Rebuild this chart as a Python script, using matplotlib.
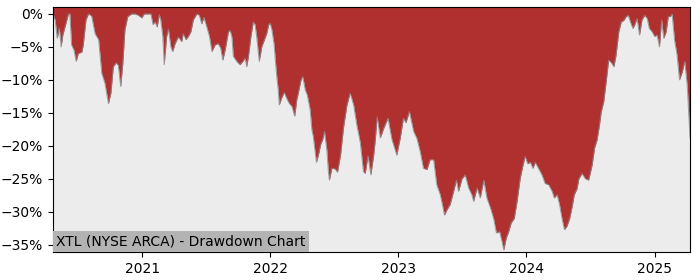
import matplotlib
matplotlib.use("Agg")
import matplotlib.pyplot as plt
import matplotlib.dates as mdates
from matplotlib.ticker import PercentFormatter
import pandas as pd

# drawdown readings (percent) for XTL
dates = [
    "2020-04-22", "2020-04-28", "2020-05-04", "2020-05-10", "2020-05-15", "2020-05-20",
    "2020-05-26", "2020-06-05", "2020-06-09", "2020-06-14", "2020-06-21", "2020-06-27",
    "2020-07-03", "2020-07-13", "2020-07-17", "2020-07-25", "2020-08-01", "2020-08-10",
    "2020-08-20", "2020-08-30", "2020-09-08", "2020-09-17", "2020-09-27", "2020-10-04",
    "2020-10-11", "2020-10-19", "2020-10-25", "2020-11-01", "2020-11-07", "2020-11-13",
    "2020-11-21", "2020-12-02", "2020-12-12", "2020-12-21", "2020-12-31", "2021-01-07",
    "2021-01-19", "2021-01-26", "2021-02-01", "2021-02-07", "2021-02-13", "2021-02-19",
    "2021-02-23", "2021-03-01", "2021-03-05", "2021-03-12", "2021-03-17", "2021-03-24",
    "2021-03-29", "2021-04-05", "2021-04-14", "2021-04-24", "2021-04-28", "2021-05-06",
    "2021-05-13", "2021-05-20", "2021-05-27", "2021-06-06", "2021-06-13", "2021-06-20",
    "2021-06-26", "2021-07-04", "2021-07-12", "2021-07-19", "2021-07-28", "2021-08-06",
    "2021-08-13", "2021-08-19", "2021-08-26", "2021-09-04", "2021-09-09", "2021-09-14",
    "2021-09-18", "2021-09-28", "2021-10-07", "2021-10-15", "2021-10-22", "2021-10-26",
    "2021-10-31", "2021-11-07", "2021-11-14", "2021-11-19", "2021-11-24", "2021-12-01",
    "2021-12-08", "2021-12-15", "2021-12-22", "2021-12-28", "2022-01-01", "2022-01-06",
    "2022-01-12", "2022-01-19", "2022-01-24", "2022-01-27", "2022-02-03", "2022-02-10",
    "2022-02-19", "2022-02-25", "2022-03-04", "2022-03-12", "2022-03-18", "2022-03-23",
    "2022-03-30", "2022-04-04", "2022-04-11", "2022-04-17", "2022-04-25", "2022-04-30",
    "2022-05-04", "2022-05-09", "2022-05-13", "2022-05-19", "2022-05-25", "2022-05-31",
    "2022-06-05", "2022-06-12", "2022-06-16", "2022-06-19", "2022-06-26", "2022-07-05",
    "2022-07-12", "2022-07-21", "2022-07-29", "2022-08-08", "2022-08-17", "2022-08-27",
    "2022-09-05", "2022-09-15", "2022-09-24", "2022-09-29", "2022-10-07", "2022-10-15",
    "2022-10-23", "2022-10-28", "2022-11-02", "2022-11-11", "2022-11-21", "2022-12-03",
    "2022-12-14", "2022-12-28", "2023-01-07", "2023-01-16", "2023-01-23", "2023-02-02",
    "2023-02-14", "2023-02-23", "2023-03-05", "2023-03-14", "2023-03-24", "2023-04-02",
    "2023-04-12", "2023-04-21", "2023-05-01", "2023-05-07", "2023-05-13", "2023-05-20",
    "2023-05-29", "2023-06-08", "2023-06-16", "2023-06-22", "2023-07-02", "2023-07-11",
    "2023-07-21", "2023-07-30", "2023-08-04", "2023-08-14", "2023-08-23", "2023-09-02",
    "2023-09-11", "2023-09-21", "2023-09-30", "2023-10-08", "2023-10-17", "2023-10-24",
    "2023-10-29", "2023-11-05", "2023-11-12", "2023-11-19", "2023-11-28", "2023-12-06",
    "2023-12-15", "2023-12-23", "2023-12-29", "2024-01-05", "2024-01-13", "2024-01-20",
    "2024-01-27", "2024-02-05", "2024-02-15", "2024-02-24", "2024-03-05", "2024-03-15",
    "2024-03-21", "2024-03-29", "2024-04-05", "2024-04-12", "2024-04-19", "2024-04-26",
    "2024-05-04", "2024-05-11", "2024-05-17", "2024-05-25", "2024-05-30", "2024-06-08",
    "2024-06-18", "2024-06-27", "2024-07-07", "2024-07-14", "2024-07-21", "2024-07-28",
    "2024-08-02", "2024-08-09", "2024-08-16", "2024-08-23", "2024-08-31", "2024-09-07",
    "2024-09-13", "2024-09-21", "2024-09-28", "2024-10-05", "2024-10-12", "2024-10-18",
    "2024-10-24", "2024-10-31", "2024-11-05", "2024-11-12", "2024-11-19", "2024-11-26",
    "2024-12-04", "2024-12-11", "2024-12-17", "2024-12-25", "2025-01-01", "2025-01-08",
    "2025-01-15", "2025-01-21", "2025-01-27", "2025-02-03", "2025-02-09", "2025-02-15",
    "2025-02-20", "2025-02-27", "2025-03-06", "2025-03-13", "2025-03-21", "2025-03-28",
    "2025-04-04", "2025-04-12",
]
drawdown = [
    0.0, -0.9, -3.7, -2.1, -5.0, -3.2,
    -2.0, 0.0, 0.0, -4.7, -5.5, -7.2,
    -6.0, -5.8, -4.8, -0.9, 0.0, -0.3,
    -3.0, -3.9, -9.0, -10.5, -13.6, -12.0,
    -8.0, -7.4, -7.8, -11.0, -7.5, -2.4,
    -0.4, 0.0, 0.0, -0.2, -0.6, 0.0,
    0.0, 0.0, -1.6, -1.2, -2.0, -0.1,
    -0.9, -3.4, -7.7, -3.4, -2.3, -5.0,
    -5.7, -4.5, -3.5, -4.2, -3.0, -3.9,
    -3.4, -2.7, -0.9, 0.0, -0.2, -1.5,
    -0.5, -1.9, -3.4, -5.7, -4.7, -4.5,
    -5.2, -7.0, -5.4, -2.7, -2.5, -3.5,
    -6.4, -7.2, -7.7, -7.2, -6.7, -8.0,
    -6.5, -3.5, -1.2, -1.6, -3.6, -7.2,
    -5.0, -4.0, -3.0, -1.6, -1.4, -2.4,
    -4.5, -9.0, -11.5, -13.8, -12.7, -11.9,
    -13.0, -13.6, -14.0, -15.5, -13.0, -11.8,
    -10.0, -9.5, -11.5, -12.3, -14.5, -17.6,
    -18.6, -20.8, -22.5, -21.3, -19.8, -19.0,
    -17.8, -20.8, -23.9, -25.2, -23.4, -23.5,
    -24.0, -21.3, -17.3, -13.8, -12.0, -13.8,
    -16.8, -19.5, -23.9, -24.2, -21.5, -24.4,
    -21.5, -19.0, -15.6, -18.8, -17.3, -15.8,
    -19.0, -21.4, -18.8, -15.8, -16.5, -14.8,
    -17.8, -18.8, -20.9, -23.4, -23.6, -22.1,
    -22.1, -25.9, -27.4, -28.9, -30.5, -29.7,
    -28.9, -26.9, -25.2, -26.9, -25.0, -24.4,
    -26.4, -27.4, -28.4, -26.4, -27.9, -25.2,
    -27.9, -29.4, -31.0, -33.2, -33.0, -34.5,
    -35.8, -34.0, -33.0, -31.7, -31.0, -28.4,
    -24.9, -22.9, -21.6, -22.7, -22.5, -23.4,
    -22.5, -23.4, -24.4, -25.7, -25.9, -26.9,
    -27.9, -27.4, -28.9, -31.0, -32.7, -32.2,
    -31.0, -29.2, -27.4, -26.5, -25.0, -24.2,
    -25.0, -25.2, -22.9, -20.3, -19.1, -16.8,
    -14.8, -13.3, -10.3, -7.0, -7.4, -8.0,
    -6.3, -2.7, -1.2, -1.0, -0.4, -0.2,
    -1.2, -2.2, -1.7, -0.7, -3.2, -0.9,
    -0.2, -0.7, -2.2, -2.7, -3.4, -3.2,
    -5.0, -0.9, -3.7, -2.7, -0.4, -0.4,
    0.0, -4.0, -6.2, -10.0, -8.8, -7.2,
    -10.8, -18.8,
]
title = "XTL (NYSE ARCA) - Drawdown Chart"

x = pd.to_datetime(dates)

fig = plt.figure(figsize=(7, 2.8), dpi=100)
ax = fig.add_axes([0.0757, 0.1, 0.91, 0.875])
ax.set_facecolor("#ececec")

ax.fill_between(x, drawdown, 5, color="#b03030", linewidth=0)
ax.plot(x, drawdown, color="#8a8a8a", linewidth=0.7, alpha=0.8)

ax.set_xlim(x[0], x[-1])
ax.set_ylim(-36.1, 1.05)
ax.set_yticks(range(-35, 1, 5))
ax.yaxis.set_major_formatter(PercentFormatter(xmax=100, decimals=0))
ax.xaxis.set_major_locator(mdates.YearLocator())
ax.xaxis.set_major_formatter(mdates.DateFormatter("%Y"))
ax.tick_params(labelsize=10)

# label box sits flush on the lower-left corner of the axes
ax.annotate(title, xy=(0, 0), xycoords="axes fraction",
            xytext=(2.4, 2.4), textcoords="offset points",
            ha="left", va="bottom", fontsize=10,
            bbox=dict(facecolor="#b3b3b3", edgecolor="none", pad=2.4))

fig.savefig("out.png", dpi=100)
